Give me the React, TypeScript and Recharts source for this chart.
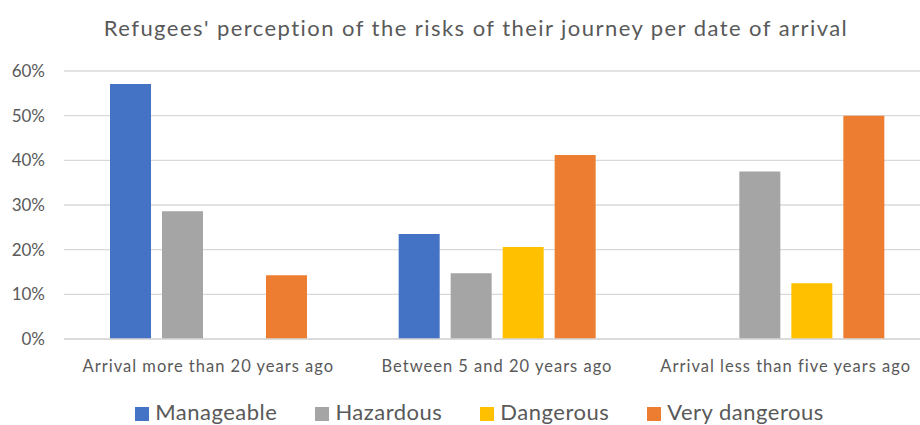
import React from "react";
import { BarChart, Bar, XAxis, YAxis, CartesianGrid, Legend } from "recharts";

const categories = [
  "Arrival more than 20 years ago",
  "Between 5 and 20 years ago",
  "Arrival less than five years ago",
];
const manageable = [0.571, 0.235, null];
const hazardous = [0.286, 0.147, 0.375];
const dangerous = [null, 0.206, 0.125];
const veryDangerous = [0.143, 0.412, 0.5];
const yTicks = [0, 0.1, 0.2, 0.3, 0.4, 0.5, 0.6];

const seriesNames = ["Manageable", "Hazardous", "Dangerous", "Very dangerous"];
const seriesColors = ["#4472C4", "#A5A5A5", "#FFC000", "#ED7D31"];

const data = categories.map((c, i) => ({
  category: c,
  m: manageable[i],
  h: hazardous[i],
  d: dangerous[i],
  v: veryDangerous[i],
}));
const keys = ["m", "h", "d", "v"];

const FONT = "Lato, 'Open Sans', sans-serif";
const TEXT = "#595959";

const LegendContent = () => (
  <div
    style={{
      display: "flex",
      justifyContent: "center",
      alignItems: "center",
      fontFamily: FONT,
      fontSize: 22,
      letterSpacing: 0.5,
      color: TEXT,
      whiteSpace: "nowrap",
    }}
  >
    {seriesNames.map((n, i) => (
      <div
        key={n}
        style={{ display: "flex", alignItems: "center", marginRight: i < 3 ? 38 : 0 }}
      >
        <span
          style={{
            display: "inline-block",
            width: 14,
            height: 14,
            background: seriesColors[i],
            marginRight: 6,
            marginTop: 4,
          }}
        />
        <span>{n}</span>
      </div>
    ))}
  </div>
);

export default function App() {
  return (
    <div
      style={{
        position: "fixed",
        left: 0,
        top: 0,
        width: 920,
        height: 425,
        overflow: "hidden",
        background: "#fff",
      }}
    >
      <div
        style={{
          position: "absolute",
          top: 14,
          left: 0,
          width: 952,
          textAlign: "center",
          fontFamily: FONT,
          fontSize: 22,
          letterSpacing: 1.45,
          color: TEXT,
          whiteSpace: "nowrap",
        }}
      >
        Refugees' perception of the risks of their journey per date of arrival
      </div>
      <BarChart
        width={931}
        height={425}
        data={data}
        margin={{ top: 71, right: 1, bottom: 0, left: 0 }}
        barSize={41}
        barGap={11}
      >
        <CartesianGrid vertical={false} stroke="#D9D9D9" strokeWidth={1.3} />
        <XAxis
          dataKey="category"
          height={86}
          axisLine={{ stroke: "#D9D9D9", strokeWidth: 1.3 }}
          tickLine={false}
          tickSize={0}
          tickMargin={21}
          interval={0}
          tick={{ fill: TEXT, fontSize: 16.5, fontFamily: FONT, letterSpacing: 1 }}
        />
        <YAxis
          width={64}
          domain={[0, 0.6]}
          ticks={yTicks}
          interval={0}
          axisLine={false}
          tickLine={false}
          tickSize={0}
          tickMargin={19}
          tickFormatter={(v: number) => `${Math.round(v * 100)}%`}
          tick={{ fill: TEXT, fontSize: 17, fontFamily: FONT }}
        />
        <Legend
          verticalAlign="middle"
          layout="horizontal"
          content={<LegendContent />}
          wrapperStyle={{ position: "absolute", top: 398, left: 0, width: 959, margin: 0 }}
        />
        {keys.map((k, i) => (
          <Bar
            key={k}
            dataKey={k}
            name={seriesNames[i]}
            fill={seriesColors[i]}
            isAnimationActive={false}
          />
        ))}
      </BarChart>
    </div>
  );
}
